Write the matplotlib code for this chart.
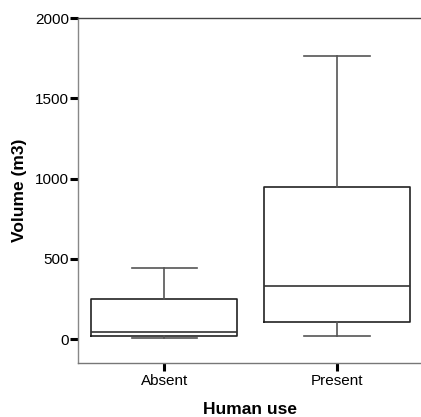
import matplotlib

matplotlib.use("Agg")
import matplotlib.pyplot as plt

plt.rcParams["font.family"] = ["Liberation Sans", "DejaVu Sans"]

# boxplot statistics (m3)
groups = ["Absent", "Present"]
whisker_low = [8, 21]
q1 = [22, 110]
median = [47, 334]
q3 = [251, 945]
whisker_high = [446, 1762]

stats = [
    dict(label=g, whislo=lo, q1=a, med=m, q3=b, whishi=hi, fliers=[])
    for g, lo, a, m, b, hi in zip(groups, whisker_low, q1, median, q3, whisker_high)
]

fig = plt.figure(figsize=(4.21, 4.17), dpi=100)
ax = fig.add_axes([0.1853, 0.1288, 0.8147, 0.828])

ax.bxp(
    stats,
    positions=[1, 2],
    widths=0.845,
    showfliers=False,
    boxprops=dict(color="#222222", linewidth=1.2),
    medianprops=dict(color="#333333", linewidth=1.2),
    whiskerprops=dict(color="#555555", linewidth=1.2),
    capprops=dict(color="#555555", linewidth=1.2),
    capwidths=0.38,
)

ax.set_xlim(0.5, 2.486)
ax.set_ylim(-150, 2000)
ax.set_yticks([0, 500, 1000, 1500, 2000])
ax.set_xticks([1, 2])
ax.set_xticklabels(groups)

ax.spines["right"].set_visible(False)
ax.spines["left"].set_color("#888888")
ax.spines["top"].set_color("#444444")
ax.spines["bottom"].set_color("#777777")
for s in ("left", "top", "bottom"):
    ax.spines[s].set_linewidth(1.0)

ax.tick_params(axis="both", length=5.5, width=2.2, color="black", labelsize=11, pad=1)
ax.tick_params(axis="x", pad=2)

ax.set_xlabel("Human use", fontsize=12.5, fontweight="bold", labelpad=10)
ax.set_ylabel("Volume (m3)", fontsize=12.5, fontweight="bold", labelpad=6)

fig.savefig("out.png", dpi=100)
